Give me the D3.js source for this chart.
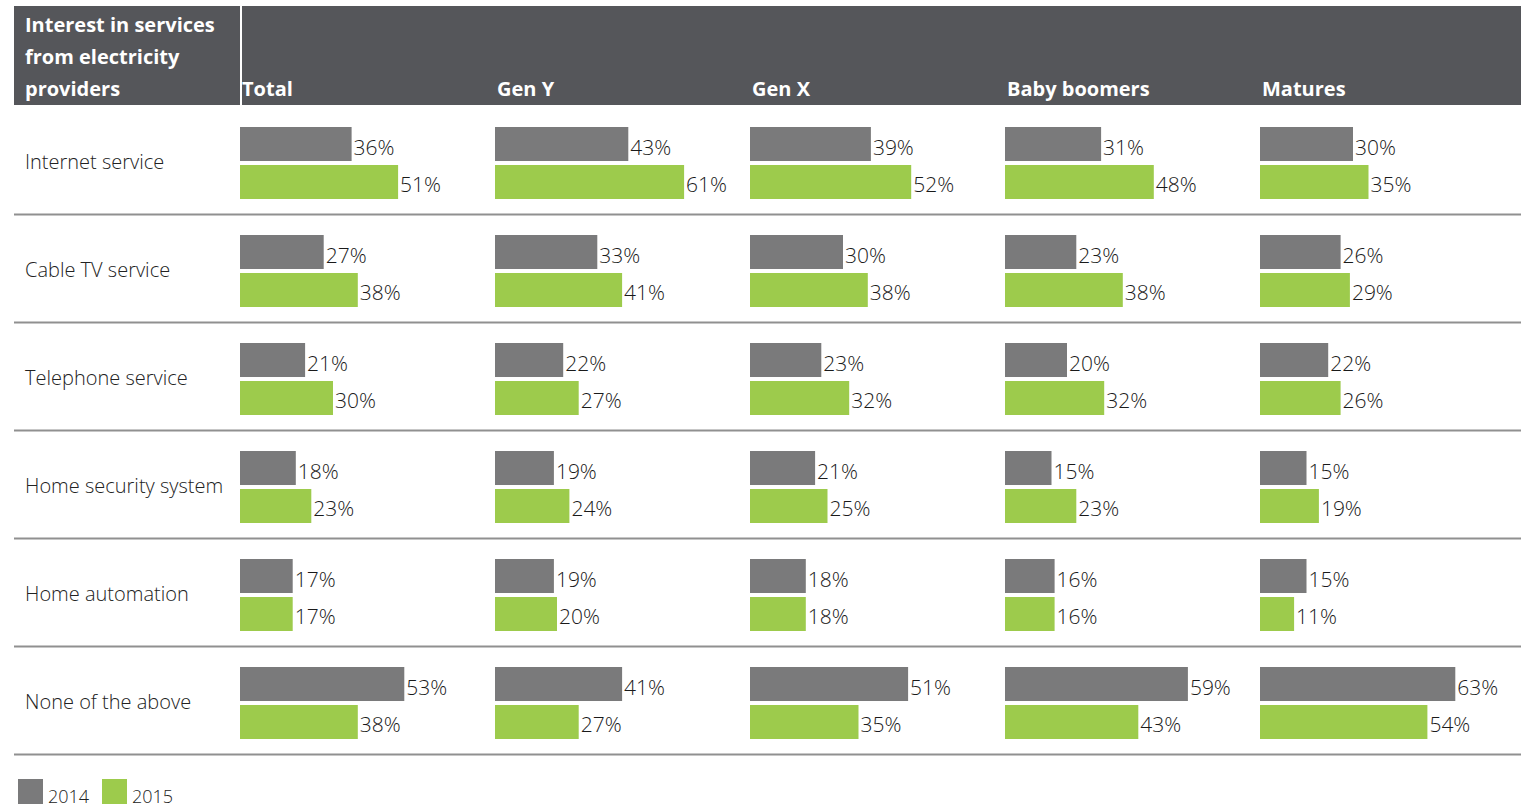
<!DOCTYPE html>
<html>
<head>
<meta charset="utf-8">
<script src="https://cdn.jsdelivr.net/npm/d3@7"></script>
<style>
  html, body { margin: 0; padding: 0; background: #fff; }
  svg { display: block; }
</style>
</head>
<body>
<svg id="chart" width="1527" height="809"></svg>
<script>
// ---- data ----
const titleLines = ["Interest in services", "from electricity", "providers"];
const groups = ["Total", "Gen Y", "Gen X", "Baby boomers", "Matures"];
const categories = ["Internet service", "Cable TV service", "Telephone service", "Home security system", "Home automation", "None of the above"];
const years = ["2014", "2015"];
// values[category][group]
const values2014 = [
  [36, 43, 39, 31, 30],
  [27, 33, 30, 23, 26],
  [21, 22, 23, 20, 22],
  [18, 19, 21, 15, 15],
  [17, 19, 18, 16, 15],
  [53, 41, 51, 59, 63]
];
const values2015 = [
  [51, 61, 52, 48, 35],
  [38, 41, 38, 38, 29],
  [30, 27, 32, 32, 26],
  [23, 24, 25, 23, 19],
  [17, 20, 18, 16, 11],
  [38, 27, 35, 43, 54]
];

// ---- layout ----
const colors = { "2014": "#7a7a7b", "2015": "#9dcb4c" };
const headerFill = "#55565a";
const font = "'Open Sans', 'Noto Sans', sans-serif";

const svg = d3.select("#chart");

const left = 14, right = 1521;
const headerTop = 6, headerBottom = 105;

const xCol = d3.scaleBand().domain(groups).range([240.4, 240.4 + 255 * 5]).padding(0);
const colX = g => Math.round(xCol(g));
const yRow = d3.scaleBand().domain(categories).range([106, 754]).padding(0);
const yYear = d3.scaleBand().domain(years).range([21, 93]).paddingInner(0.105).paddingOuter(0);
const x = d3.scaleLinear().domain([0, 100]).range([0, 310]);

// header
svg.append("rect").attr("x", left).attr("y", headerTop).attr("width", 240 - left).attr("height", headerBottom - headerTop).attr("fill", headerFill);
svg.append("rect").attr("x", 242).attr("y", headerTop).attr("width", right - 242).attr("height", headerBottom - headerTop).attr("fill", headerFill);

svg.append("g").selectAll("text").data(titleLines).join("text")
  .attr("x", 25).attr("y", (d, i) => 32 + i * 32)
  .attr("fill", "#fff").attr("font-family", font).attr("font-weight", 700).attr("font-size", 20)
  .text(d => d);

svg.append("g").selectAll("text").data(groups).join("text")
  .attr("x", d => colX(d) + 2).attr("y", 96)
  .attr("fill", "#fff").attr("font-family", font).attr("font-weight", 700).attr("font-size", 20)
  .text(d => d);

// row separators
svg.append("g").selectAll("line").data(categories).join("line")
  .attr("x1", left).attr("x2", right)
  .attr("y1", d => yRow(d) + yRow.bandwidth() + 0.5).attr("y2", d => yRow(d) + yRow.bandwidth() + 0.5)
  .attr("stroke", "#909090").attr("stroke-width", 2);

// row labels
svg.append("g").selectAll("text").data(categories).join("text")
  .attr("x", 25).attr("y", d => yRow(d) + 63)
  .attr("fill", "#222").attr("font-family", font).attr("font-weight", 300).attr("font-size", 20)
  .text(d => d);

// bars
const cells = [];
categories.forEach((c, ci) => {
  groups.forEach((g, gi) => {
    cells.push({ c, g, year: "2014", v: values2014[ci][gi] });
    cells.push({ c, g, year: "2015", v: values2015[ci][gi] });
  });
});

const barG = svg.append("g");
barG.selectAll("rect").data(cells).join("rect")
  .attr("x", d => colX(d.g))
  .attr("y", d => yRow(d.c) + yYear(d.year))
  .attr("width", d => x(d.v))
  .attr("height", yYear.bandwidth())
  .attr("fill", d => colors[d.year]);

barG.selectAll("text").data(cells).join("text")
  .attr("x", d => colX(d.g) + x(d.v) + 2)
  .attr("y", d => yRow(d.c) + yYear(d.year) + 27.5)
  .attr("fill", "#1a1a1a").attr("font-family", font).attr("font-weight", 300).attr("font-size", 21)
  .text(d => d.v + "%");

// legend
const leg = svg.append("g").selectAll("g").data(years).join("g")
  .attr("transform", (d, i) => `translate(${18 + i * 84},779)`);
leg.append("rect").attr("width", 25).attr("height", 25).attr("fill", d => colors[d]);
leg.append("text").attr("x", 30).attr("y", 24)
  .attr("fill", "#222").attr("font-family", font).attr("font-weight", 300).attr("font-size", 18)
  .text(d => d);
</script>
</body>
</html>
